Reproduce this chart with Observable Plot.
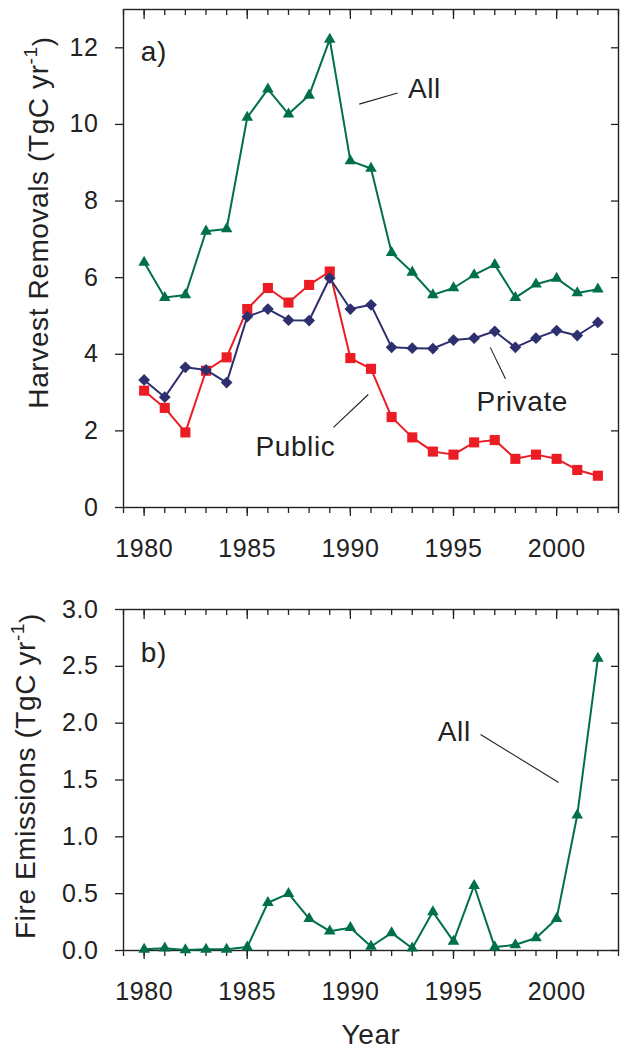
<!DOCTYPE html>
<html>
<head>
<meta charset="utf-8">
<script src="https://cdn.jsdelivr.net/npm/d3@7"></script>
<script src="https://cdn.jsdelivr.net/npm/@observablehq/plot@0.6"></script>
<style>
  html, body { margin: 0; padding: 0; background: #fff; }
  #chart svg { display: block; }
</style>
</head>
<body>
<div id="chart"></div>
<script>
// ---- data ----
const years = [1980,1981,1982,1983,1984,1985,1986,1987,1988,1989,1990,1991,1992,1993,1994,1995,1996,1997,1998,1999,2000,2001,2002];
const harvestAll = [6.40,5.48,5.55,7.21,7.27,10.18,10.92,10.27,10.76,12.22,9.05,8.85,6.65,6.14,5.55,5.73,6.07,6.34,5.48,5.83,5.98,5.60,5.70];
const harvestPrivate = [3.33,2.88,3.66,3.59,3.26,4.98,5.18,4.89,4.88,5.99,5.18,5.29,4.18,4.16,4.15,4.37,4.42,4.60,4.18,4.42,4.62,4.49,4.83];
const harvestPublic = [3.05,2.60,1.96,3.57,3.92,5.18,5.73,5.35,5.81,6.16,3.90,3.62,2.36,1.83,1.46,1.38,1.70,1.76,1.27,1.38,1.27,0.98,0.83];
const fireAll = [0.01,0.02,0.005,0.01,0.01,0.03,0.42,0.50,0.28,0.17,0.20,0.035,0.155,0.02,0.34,0.08,0.57,0.03,0.05,0.11,0.28,1.19,2.57];

const xDomain = [1979, 2003];
const majorYears = [1980,1985,1990,1995,2000];
const minorYears = [1979,1980,1981,1982,1983,1984,1985,1986,1987,1988,1989,1990,1991,1992,1993,1994,1995,1996,1997,1998,1999,2000,2001,2002,2003];
const harvestTicks = [0,2,4,6,8,10,12];
const fireTicks = [0,0.5,1.0,1.5,2.0,2.5,3.0];

const harvestTitle = "Harvest Removals (TgC yr-1)";
const fireTitle = "Fire Emissions (TgC yr-1)";
const xTitle = "Year";

const labelsA = [
  {x: 1979.84, y: 11.66, text: "a)"},
  {x: 1992.79, y: 10.69, text: "All"},
  {x: 1996.12, y: 2.53, text: "Private"},
  {x: 1985.40, y: 1.356, text: "Public"}
];
const leadersA = [
  {x1: 1990.43, y1: 10.53, x2: 1992.29, y2: 10.82},
  {x1: 1996.78, y1: 4.18, x2: 1997.52, y2: 3.36},
  {x1: 1989.18, y1: 2.09, x2: 1990.87, y2: 2.95}
];
const labelsB = [
  {x: 1979.84, y: 2.54, text: "b)"},
  {x: 1994.24, y: 1.847, text: "All"}
];
const leadersB = [
  {x1: 1996.31, y1: 1.90, x2: 2000.10, y2: 1.478}
];

// ---- styles ----
const GREEN = "#00704A", RED = "#EC1C24", NAVY = "#2D2F6E", INK = "#222";
const FONT = "'Liberation Sans', Arial, Helvetica, sans-serif";

const rows = (vals) => years.map((yr, i) => ({year: yr, value: vals[i]}));

function frameAxes(yTicks, yFmt) {
  return [
    Plot.frame({stroke: INK, strokeWidth: 1.4}),
    Plot.axisY({ticks: yTicks, tickSize: 8, tickPadding: 17, tickFormat: yFmt, label: null, stroke: INK, strokeWidth: 1.3}),
    Plot.axisY({anchor: "right", ticks: yTicks, tickSize: 8, dx: -8, tickFormat: () => "", label: null, stroke: INK, strokeWidth: 1.3}),
    Plot.axisX({ticks: majorYears, tickSize: 9, tickPadding: 23, tickFormat: d => String(d), label: null, stroke: INK, strokeWidth: 1.3}),
    Plot.axisX({ticks: minorYears, tickSize: 6, tickFormat: () => "", label: null, stroke: INK, strokeWidth: 1.3}),
    Plot.axisX({anchor: "top", ticks: majorYears, tickSize: 9, dy: 9, tickFormat: () => "", label: null, stroke: INK, strokeWidth: 1.3}),
    Plot.axisX({anchor: "top", ticks: minorYears, tickSize: 5, dy: 5, tickFormat: () => "", label: null, stroke: INK, strokeWidth: 1.3})
  ];
}

const common = {
  width: 626,
  marginLeft: 123,
  marginRight: 8,
  x: {domain: xDomain, label: null},
  style: {fontFamily: FONT, fontSize: "25px", color: INK, background: "#fff", letterSpacing: "0.6px"}
};

const harvestChart = Plot.plot({
  ...common,
  height: 580,
  marginTop: 9,
  marginBottom: 73,
  y: {domain: [0, 13], label: null},
  marks: [
    ...frameAxes(harvestTicks, d => String(d)),
    Plot.line(rows(harvestPublic), {x: "year", y: "value", stroke: RED, strokeWidth: 2}),
    Plot.dot(rows(harvestPublic), {x: "year", y: "value", symbol: "square", r: 5.7, fill: RED}),
    Plot.line(rows(harvestPrivate), {x: "year", y: "value", stroke: NAVY, strokeWidth: 2}),
    Plot.dot(rows(harvestPrivate), {x: "year", y: "value", symbol: "square", rotate: 45, r: 4.7, fill: NAVY}),
    Plot.line(rows(harvestAll), {x: "year", y: "value", stroke: GREEN, strokeWidth: 2}),
    Plot.dot(rows(harvestAll), {x: "year", y: "value", symbol: "triangle", r: 4.3, fill: GREEN}),
    Plot.link(leadersA, {x1: "x1", y1: "y1", x2: "x2", y2: "y2", stroke: INK, strokeWidth: 1.1}),
    Plot.text(labelsA, {x: "x", y: "y", text: "text", textAnchor: "start", lineAnchor: "bottom", fontSize: 28, fill: INK}),
    Plot.text([harvestTitle], {frameAnchor: "left", dx: -76, dy: -36, rotate: -90, lineAnchor: "bottom", textAnchor: "middle", fontSize: 28, fill: INK})
  ]
});

const fireChart = Plot.plot({
  ...common,
  height: 468,
  marginTop: 29,
  marginBottom: 98,
  y: {domain: [0, 3], label: null},
  marks: [
    ...frameAxes(fireTicks, d3.format(".1f")),
    Plot.line(rows(fireAll), {x: "year", y: "value", stroke: GREEN, strokeWidth: 2}),
    Plot.dot(rows(fireAll), {x: "year", y: "value", symbol: "triangle", r: 4.3, fill: GREEN}),
    Plot.link(leadersB, {x1: "x1", y1: "y1", x2: "x2", y2: "y2", stroke: INK, strokeWidth: 1.1}),
    Plot.text(labelsB, {x: "x", y: "y", text: "text", textAnchor: "start", lineAnchor: "bottom", fontSize: 28, fill: INK}),
    Plot.text([fireTitle], {frameAnchor: "left", dx: -89, dy: -4, rotate: -90, lineAnchor: "bottom", textAnchor: "middle", fontSize: 28, fill: INK}),
    Plot.text([xTitle], {frameAnchor: "bottom", dy: 93, lineAnchor: "bottom", textAnchor: "middle", fontSize: 28, fill: INK})
  ]
});

const host = document.getElementById("chart");
host.appendChild(harvestChart);
host.appendChild(fireChart);

// superscript "-1" in the y titles
function superscript(svg, title) {
  d3.select(svg).selectAll("text").each(function() {
    if (this.textContent === title) {
      const base = title.replace("yr-1)", "yr");
      const t = d3.select(this);
      t.text(null);
      t.append("tspan").text(base);
      t.append("tspan").attr("dy", "-0.55em").attr("font-size", "19px").text("-1");
      t.append("tspan").attr("dy", "0.55em").text(")");
    }
  });
}
superscript(harvestChart, harvestTitle);
superscript(fireChart, fireTitle);
</script>
</body>
</html>
